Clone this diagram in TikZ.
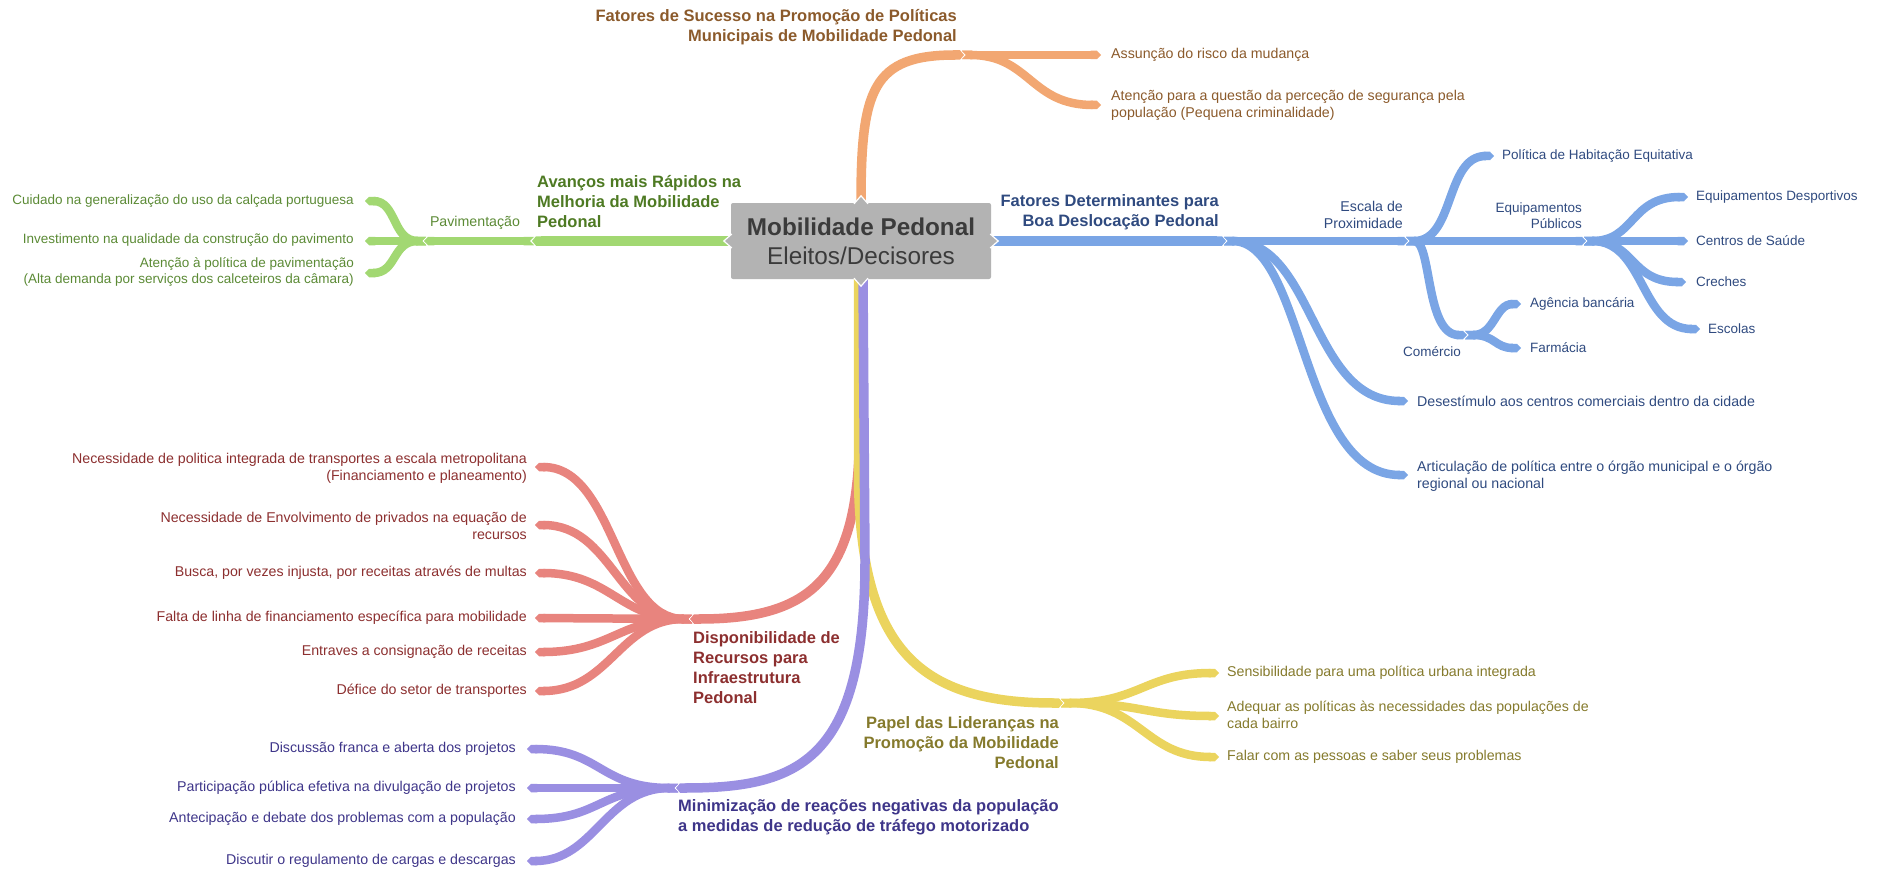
\documentclass[tikz,border=0pt]{standalone}
\usepackage{fontspec}
\setmainfont{Liberation Sans}
\usetikzlibrary{arrows.meta,backgrounds}

% branch colours: L = line, T = text
\definecolor{orgL}{HTML}{F2A772}
\definecolor{orgT}{HTML}{8B5A2B}
\definecolor{grnL}{HTML}{A2D872}
\definecolor{grnT}{HTML}{4E7A23}
\definecolor{grnS}{HTML}{5B8A35}
\definecolor{bluL}{HTML}{7AA5E5}
\definecolor{bluT}{HTML}{2F4A7F}
\definecolor{redL}{HTML}{E8847E}
\definecolor{redT}{HTML}{8C2F2F}
\definecolor{yelL}{HTML}{EBD45E}
\definecolor{yelT}{HTML}{857A2C}
\definecolor{purL}{HTML}{9A8FE2}
\definecolor{purT}{HTML}{3E3589}
\definecolor{rootF}{HTML}{B3B3B3}
\definecolor{rootT}{HTML}{3B3B3B}

\tikzset{
  trunk/.style={draw=#1, line width=9.5pt, arrows={-{Triangle Cap[length=4pt]}}},
  twig/.style={draw=#1, line width=8.5pt,
    arrows={{Triangle Cap[reversed,length=4pt]}-{Triangle Cap[length=4pt]}}},
  midtxt/.style={font=\fontsize{14.2}{17}\selectfont, text=#1, inner sep=0pt},
  leaftxt/.style={font=\fontsize{13.5}{16.5}\selectfont, text=#1, inner sep=0pt},
  headtxt/.style={font=\fontsize{16.5}{20}\selectfont\bfseries, text=#1, inner sep=0pt},
  rootbox/.style={fill=rootF, rounded corners=2pt, minimum width=260pt,
    minimum height=76pt, inner sep=0pt, align=center, text=rootT,
    font=\fontsize{24.3}{29}\selectfont},
  notchw/.style={white, line width=1.2pt}
}

\begin{document}
\begin{tikzpicture}[x=1pt,y=-1pt]
\useasboundingbox (0,0) rectangle (1877,872);

% ---------- central topic ----------
\node[rootbox] (root) at (861,241) {{\bfseries Mobilidade Pedonal}\\Eleitos/Decisores};

% ---------- junctions and line ends ----------
% orange
\coordinate (oJ) at (964,55);   \coordinate (oS) at (962,55);
\coordinate (o1t) at (1101,55); \coordinate (o2t) at (1101,105);
% green
\coordinate (gJ) at (532,241);  \coordinate (gS) at (534,241);
\coordinate (vJ) at (424,241);  \coordinate (vS) at (426,241);
\coordinate (g1t) at (365,201); \coordinate (g2t) at (365,241); \coordinate (g3t) at (365,273);
% blue
\coordinate (bJ) at (1226,241); \coordinate (bS) at (1224,241);
\coordinate (eJ) at (1408,241); \coordinate (eS) at (1406,241);
\coordinate (qJ) at (1586,241); \coordinate (qS) at (1584,241);
\coordinate (cJ) at (1467,335); \coordinate (cS) at (1465,335);
\coordinate (b2t) at (1408,401); \coordinate (b3t) at (1408,475);
\coordinate (e1t) at (1494,156);
\coordinate (q1t) at (1688,197); \coordinate (q2t) at (1688,241);
\coordinate (q3t) at (1686,282); \coordinate (q4t) at (1700,329);
\coordinate (c1t) at (1521,304); \coordinate (c2t) at (1521,348);
% red
\coordinate (rJ) at (690,619);  \coordinate (rS) at (692,619);
\coordinate (r1t) at (535,467); \coordinate (r2t) at (535,525); \coordinate (r3t) at (535,573);
\coordinate (r4t) at (535,618); \coordinate (r5t) at (535,652); \coordinate (r6t) at (535,691);
% yellow
\coordinate (yJ) at (1063,703); \coordinate (yS) at (1061,703);
\coordinate (y1t) at (1219,673); \coordinate (y2t) at (1219,716); \coordinate (y3t) at (1219,757);
% purple
\coordinate (mJ) at (676,788);  \coordinate (mS) at (678,788);
\coordinate (m1t) at (527,749); \coordinate (m2t) at (527,788);
\coordinate (m3t) at (527,819); \coordinate (m4t) at (527,861);

% ---------- texts ----------
% orange
\node[headtxt=orgT, anchor=east, align=right] (oH) at (957,27.5)
  {Fatores de Sucesso na Promoção de Políticas\\Municipais de Mobilidade Pedonal};
\node[midtxt=orgT, anchor=west] (o1) at (1111,55) {Assunção do risco da mudança};
\node[midtxt=orgT, anchor=west, align=left] (o2) at (1111,105.5)
  {Atenção para a questão da perceção de segurança pela\\população (Pequena criminalidade)};
% green
\node[headtxt=grnT, anchor=west, align=left] (gH) at (537,202)
  {Avanços mais Rápidos na\\Melhoria da Mobilidade\\Pedonal};
\node[midtxt=grnS] (gP) at (475,223) {Pavimentação};
\node[leaftxt=grnS, anchor=east] (g1) at (354,201) {Cuidado na generalização do uso da calçada portuguesa};
\node[leaftxt=grnS, anchor=east] (g2) at (354,240) {Investimento na qualidade da construção do pavimento};
\node[leaftxt=grnS, anchor=east, align=right] (g3) at (354,272)
  {Atenção à política de pavimentação\\(Alta demanda por serviços dos calceteiros da câmara)};
% blue
\node[headtxt=bluT, anchor=east, align=right] (bH) at (1219,212.5)
  {Fatores Determinantes para\\Boa Deslocação Pedonal};
\node[midtxt=bluT, anchor=east, align=right] (eL) at (1403,214.5) {Escala de\\Proximidade};
\node[leaftxt=bluT, anchor=east, align=right] (qL) at (1582,215.5) {Equipamentos\\Públicos};
\node[leaftxt=bluT] (cL) at (1432,352) {Comércio};
\node[midtxt=bluT, anchor=west] (b2) at (1417,401) {Desestímulo aos centros comerciais dentro da cidade};
\node[midtxt=bluT, anchor=west, align=left] (b3) at (1417,476)
  {Articulação de política entre o órgão municipal e o órgão\\regional ou nacional};
\node[leaftxt=bluT, anchor=west] (e1) at (1502,156) {Política de Habitação Equitativa};
\node[leaftxt=bluT, anchor=west] (q1) at (1696,197) {Equipamentos Desportivos};
\node[leaftxt=bluT, anchor=west] (q2) at (1696,241) {Centros de Saúde};
\node[leaftxt=bluT, anchor=west] (q3) at (1696,282) {Creches};
\node[leaftxt=bluT, anchor=west] (q4) at (1708,329) {Escolas};
\node[leaftxt=bluT, anchor=west] (c1) at (1530,304) {Agência bancária};
\node[leaftxt=bluT, anchor=west] (c2) at (1530,348) {Farmácia};
% red
\node[headtxt=redT, anchor=west, align=left] (rH) at (693,668)
  {Disponibilidade de\\Recursos para\\Infraestrutura\\Pedonal};
\node[midtxt=redT, anchor=east, align=right] (r1) at (527,468)
  {Necessidade de politica integrada de transportes a escala metropolitana\\(Financiamento e planeamento)};
\node[midtxt=redT, anchor=east, align=right] (r2) at (527,525.5)
  {Necessidade de Envolvimento de privados na equação de\\recursos};
\node[midtxt=redT, anchor=east] (r3) at (527,573) {Busca, por vezes injusta, por receitas através de multas};
\node[midtxt=redT, anchor=east] (r4) at (527,618) {Falta de linha de financiamento específica para mobilidade};
\node[midtxt=redT, anchor=east] (r5) at (527,652) {Entraves a consignação de receitas};
\node[midtxt=redT, anchor=east] (r6) at (527,691) {Défice do setor de transportes};
% yellow
\node[headtxt=yelT, anchor=east, align=right] (yH) at (1059,743)
  {Papel das Lideranças na\\Promoção da Mobilidade\\Pedonal};
\node[midtxt=yelT, anchor=west] (y1) at (1227,673) {Sensibilidade para uma política urbana integrada};
\node[midtxt=yelT, anchor=west, align=left] (y2) at (1227,715)
  {Adequar as políticas às necessidades das populações de\\cada bairro};
\node[midtxt=yelT, anchor=west] (y3) at (1227,757) {Falar com as pessoas e saber seus problemas};
% purple
\node[headtxt=purT, anchor=west, align=left] (mH) at (678,817.5)
  {Minimização de reações negativas da população\\a medidas de redução de tráfego motorizado};
\node[midtxt=purT, anchor=east] (m1) at (516,749) {Discussão franca e aberta dos projetos};
\node[midtxt=purT, anchor=east] (m2) at (516,788) {Participação pública efetiva na divulgação de projetos};
\node[midtxt=purT, anchor=east] (m3) at (516,819) {Antecipação e debate dos problemas com a população};
\node[midtxt=purT, anchor=east] (m4) at (516,861) {Discutir o regulamento de cargas e descargas};

% ---------- branches ----------
\begin{scope}[on background layer]
  % orange
  \draw[trunk=orgL] (root.north) .. controls (861,90) and (872,55) .. (oJ);
  \draw[twig=orgL] (oS) -- (o1t);
  \draw[twig=orgL] (oS) .. controls (1030,55) and (1030,105) .. (o2t);
  % green
  \draw[trunk=grnL] (root.west) -- (gJ);
  \draw[twig=grnL] (gS) -- (vJ);
  \draw[twig=grnL] (vS) .. controls (392,241) and (397,201) .. (g1t);
  \draw[twig=grnL] (vS) -- (g2t);
  \draw[twig=grnL] (vS) .. controls (392,241) and (397,273) .. (g3t);
  % blue
  \draw[trunk=bluL] (root.east) -- (bJ);
  \draw[twig=bluL] (bS) .. controls (1305,241) and (1300,475) .. (b3t);
  \draw[twig=bluL] (bS) .. controls (1315,241) and (1310,401) .. (b2t);
  \draw[twig=bluL] (bS) -- (eJ);
  \draw[twig=bluL] (eS) .. controls (1455,241) and (1445,156) .. (e1t);
  \draw[twig=bluL] (eS) .. controls (1432,241) and (1425,335) .. (cJ);
  \draw[twig=bluL] (eS) -- (qJ);
  \draw[twig=bluL] (qS) .. controls (1635,241) and (1630,197) .. (q1t);
  \draw[twig=bluL] (qS) -- (q2t);
  \draw[twig=bluL] (qS) .. controls (1635,241) and (1630,282) .. (q3t);
  \draw[twig=bluL] (qS) .. controls (1645,241) and (1640,329) .. (q4t);
  \draw[twig=bluL] (cS) .. controls (1495,335) and (1495,304) .. (c1t);
  \draw[twig=bluL] (cS) .. controls (1495,335) and (1495,348) .. (c2t);
  % red
  \draw[trunk=redL] ([xshift=-1.5pt]root.south) -- (859.5,430)
     .. controls (859.5,580) and (810,619) .. (rJ);
  \draw[twig=redL] (rS) .. controls (615,619) and (615,467) .. (r1t);
  \draw[twig=redL] (rS) .. controls (618,619) and (612,525) .. (r2t);
  \draw[twig=redL] (rS) .. controls (620,619) and (610,573) .. (r3t);
  \draw[twig=redL] (rS) -- (r4t);
  \draw[twig=redL] (rS) .. controls (620,619) and (610,652) .. (r5t);
  \draw[twig=redL] (rS) .. controls (620,619) and (610,691) .. (r6t);
  % yellow
  \draw[trunk=yelL] ([xshift=-2.5pt]root.south) -- (858.5,480)
     .. controls (861,650) and (920,703) .. (yJ);
  \draw[twig=yelL] (yS) .. controls (1140,703) and (1145,673) .. (y1t);
  \draw[twig=yelL] (yS) .. controls (1140,703) and (1145,716) .. (y2t);
  \draw[twig=yelL] (yS) .. controls (1140,703) and (1145,757) .. (y3t);
  % purple
  \draw[trunk=purL] ([xshift=2pt]root.south) -- (865,560)
     .. controls (865,760) and (800,788) .. (mJ);
  \draw[twig=purL] (mS) .. controls (600,788) and (600,749) .. (m1t);
  \draw[twig=purL] (mS) -- (m2t);
  \draw[twig=purL] (mS) .. controls (600,788) and (600,819) .. (m3t);
  \draw[twig=purL] (mS) .. controls (605,788) and (595,861) .. (m4t);
\end{scope}

% ---------- connector points on the central topic ----------
\fill[rootF] ([yshift=6pt]root.west) -- ([xshift=-7pt]root.west) -- ([yshift=-6pt]root.west) -- cycle;
\draw[notchw] ([yshift=7pt,xshift=1pt]root.west) -- ([xshift=-7pt]root.west) -- ([yshift=-7pt,xshift=1pt]root.west);
\fill[rootF] ([yshift=6pt]root.east) -- ([xshift=7pt]root.east) -- ([yshift=-6pt]root.east) -- cycle;
\draw[notchw] ([yshift=7pt,xshift=-1pt]root.east) -- ([xshift=7pt]root.east) -- ([yshift=-7pt,xshift=-1pt]root.east);
\fill[rootF] ([xshift=6pt]root.north) -- ([yshift=7pt]root.north) -- ([xshift=-6pt]root.north) -- cycle;
\draw[notchw] ([xshift=7pt,yshift=-1pt]root.north) -- ([yshift=7pt]root.north) -- ([xshift=-7pt,yshift=-1pt]root.north);
\fill[rootF] ([xshift=6pt]root.south) -- ([yshift=-7pt]root.south) -- ([xshift=-6pt]root.south) -- cycle;
\draw[notchw] ([xshift=7pt,yshift=1pt]root.south) -- ([yshift=-7pt]root.south) -- ([xshift=-7pt,yshift=1pt]root.south);
\end{tikzpicture}
\end{document}
